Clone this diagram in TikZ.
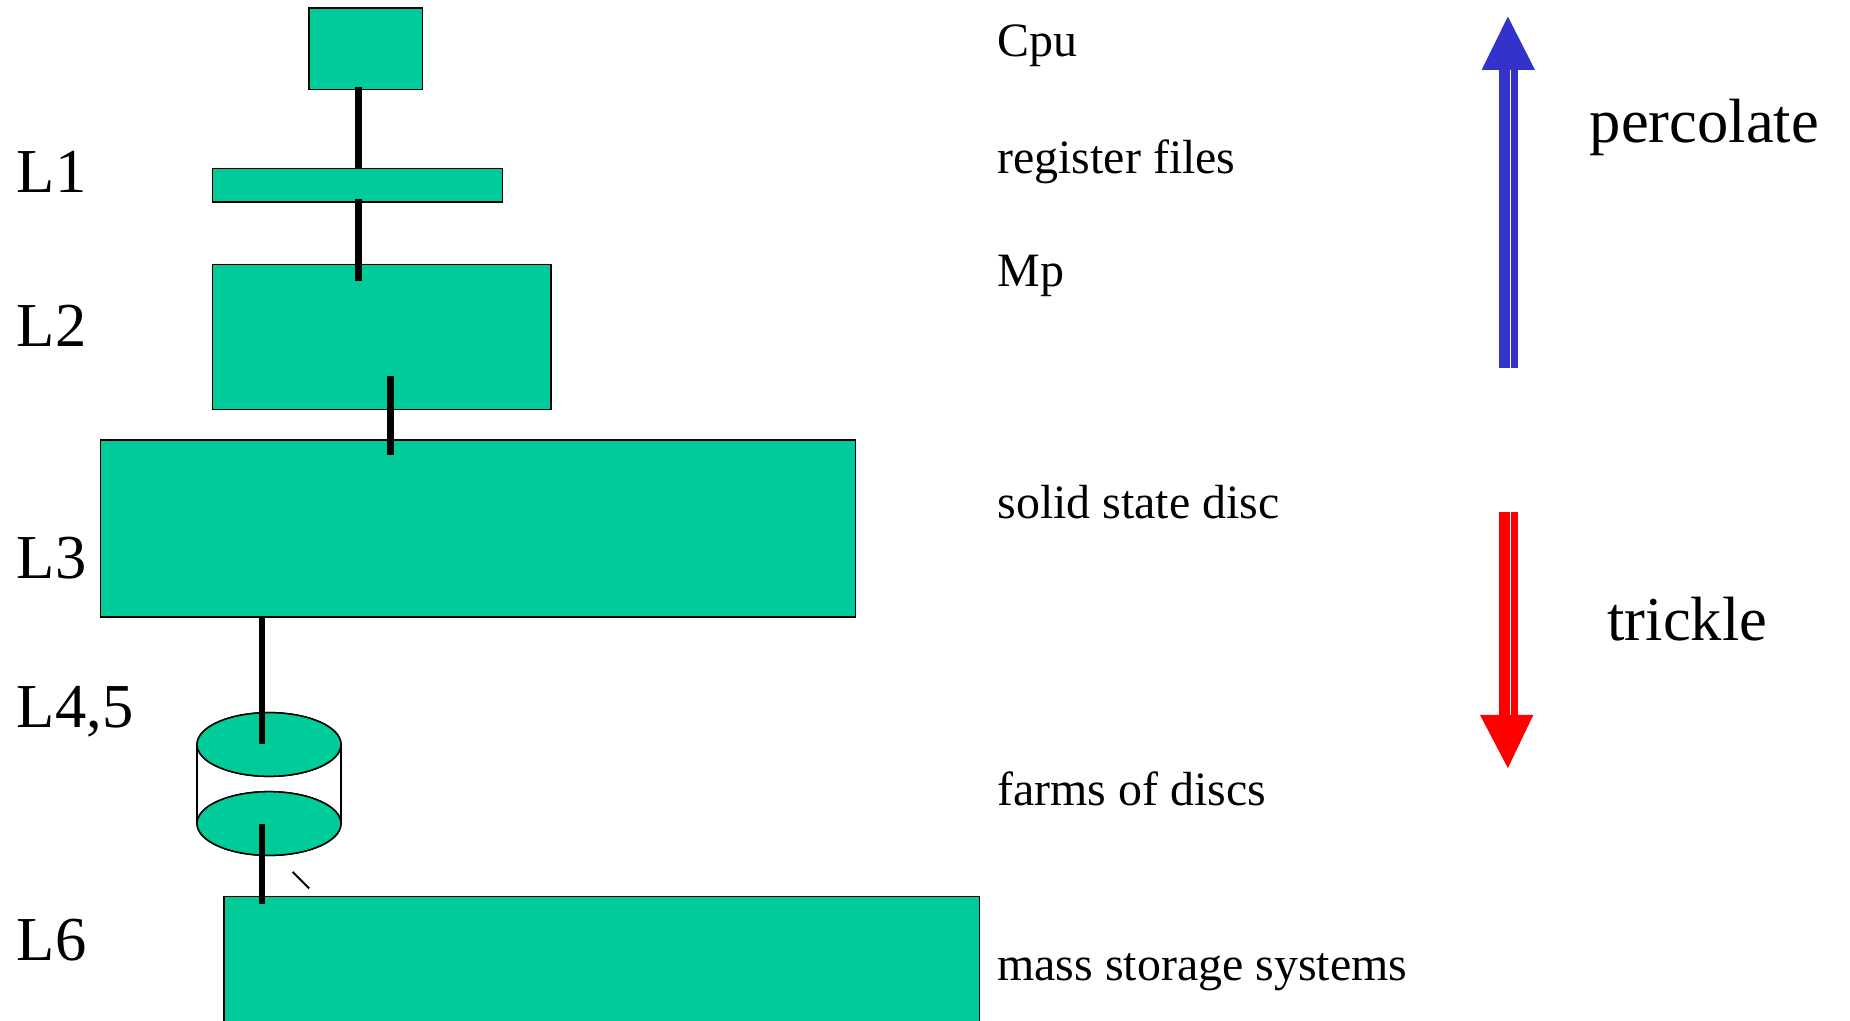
\documentclass[tikz,border=0pt]{standalone}
\usepackage{fontspec}
\setmainfont{Liberation Serif}
\usetikzlibrary{shapes.geometric,calc}
\definecolor{boxgreen}{RGB}{0,204,153}
\definecolor{upblue}{RGB}{51,51,204}
\definecolor{downred}{RGB}{255,0,0}
\begin{document}
\begin{tikzpicture}[x=0.5pt,y=-0.5pt,
  level/.style={draw=black, fill=boxgreen, line width=0.65pt, inner sep=0pt, outer sep=0pt, anchor=north west},
  disc/.style={ellipse, draw=black, fill=boxgreen, line width=0.65pt, inner sep=0pt, outer sep=0pt, minimum width=61pt, minimum height=27pt},
  conn/.style={line width=2.8pt},
  lvl/.style={anchor=base west, inner sep=0pt, font=\fontsize{26.5}{30}\selectfont},
  desc/.style={anchor=base west, inner sep=0pt, font=\fontsize{20.3}{24}\selectfont}]
\useasboundingbox (0,0) rectangle (1568,865);
\clip (0,0) rectangle (1568,865);
\fill[white] (0,0) rectangle (1568,865);

% level boxes
\node[level, minimum width=48pt, minimum height=34.5pt] (cpu) at (262,7) {};
\node[level, minimum width=123pt, minimum height=14pt] (l1) at (180,143) {};
\node[level, minimum width=143.5pt, minimum height=61.5pt] (l2) at (180,224) {};
\node[level, minimum width=320pt, minimum height=75pt] (l3) at (85,373) {};
\node[level, minimum width=320pt, minimum height=75pt] (l6) at (190,760) {};

% disc cylinder
\node[disc] (discA) at (228,631) {};
\node[disc] (discB) at (228,698) {};
\draw[line width=0.65pt] (discA.west) -- (discB.west);
\draw[line width=0.65pt] (discA.east) -- (discB.east);
\node[disc] at (discB) {};
\node[disc] at (discA) {};

% connector x positions
\coordinate (kx1) at (304,0);
\coordinate (kx2) at (331,0);
\coordinate (kx3) at (222,0);
\coordinate (s1) at ($(cpu.south -| kx1)+(0,-2)$);
\coordinate (s2) at ($(l1.south -| kx1)+(0,-2)$);
\coordinate (e2) at ($(l2.north -| kx1)+(0,14)$);
\coordinate (s3) at ($(l2.south -| kx2)+(0,-28)$);
\coordinate (e3) at ($(l3.north -| kx2)+(0,13)$);
\coordinate (e5) at ($(l6.north -| kx3)+(0,6)$);

\draw[conn] (s1) -- (l1.north -| kx1);
\draw[conn] (s2) -- (e2);
\draw[conn] (s3) -- (e3);
\draw[conn] (l3.south -| kx3) -- (discA.center -| kx3);
\draw[conn] (discB.center -| kx3) -- (e5);

% small tick
\coordinate (t1) at (248,739);
\coordinate (t2) at (262,753);
\draw[line width=0.85pt] (t1) -- (t2);

% level labels
\node[lvl] (tl1) at (14,163) {L1};
\node[lvl] (tl2) at (14,294) {L2};
\node[lvl] (tl3) at (14,490) {L3};
\node[lvl] (tl45) at (14,617) {L4,5};
\node[lvl] (tl6) at (14,814) {L6};

% descriptions
\node[desc] (dcpu) at (845,48) {Cpu};
\node[desc] (dreg) at (845,147) {register files};
\node[desc] (dmp) at (845,243) {Mp};
\node[desc] (dssd) at (845,439.5) {solid state disc};
\node[desc] (dfarm) at (845,683) {farms of discs};
\node[desc] (dmass) at (845,830.7) {mass storage systems};

% arrows
\fill[upblue] (1255.8,59.3) -- (1278,14) -- (1301,59.3) -- cycle;
\fill[upblue] (1270.5,58) rectangle (1279.5,312);
\fill[upblue] (1280.4,58) rectangle (1286.6,312);
\fill[downred] (1270.5,434) rectangle (1279.5,607);
\fill[downred] (1280.4,434) rectangle (1286.6,607);
\fill[downred] (1254.4,606) -- (1278,651) -- (1299.6,606) -- cycle;

\node[lvl] (perc) at (1347,121) {percolate};
\node[lvl] (trick) at (1362,543) {trickle};
\end{tikzpicture}
\end{document}
